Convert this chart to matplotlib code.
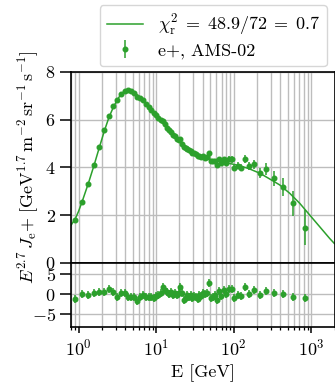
import matplotlib
matplotlib.use("Agg")
import matplotlib.pyplot as plt
import numpy as np

plt.rcParams['font.family'] = 'serif'
plt.rcParams['font.serif'] = ['cmr10']
plt.rcParams['mathtext.fontset'] = 'cm'
plt.rcParams['axes.formatter.use_mathtext'] = True
plt.rcParams['font.size'] = 13

# AMS-02 positron data (E^2.7 * flux)
energy = [0.91, 1.11, 1.34, 1.58, 1.85, 2.15, 2.47, 2.82, 3.18, 3.54, 3.92, 4.32,
          4.76, 5.24, 5.74, 6.26, 6.81, 7.39, 7.99, 8.62, 9.28, 9.96, 10.67, 11.42,
          12.19, 12.99, 13.82, 14.69, 15.59, 16.52, 17.48, 18.48, 19.51, 20.58, 21.68, 22.83,
          24.01, 25.25, 26.57, 27.96, 29.44, 31.00, 32.66, 34.43, 36.32, 38.34, 40.48, 42.79,
          45.27, 47.93, 50.81, 53.93, 57.33, 61.04, 65.12, 69.64, 74.66, 80.31, 86.71, 94.05,
          102.6, 112.7, 125.1, 140.2, 159.0, 184.4, 219.1, 263.8, 327.6, 430.1, 591.6, 836.7]
flux = [1.79, 2.55, 3.32, 4.09, 4.85, 5.55, 6.16, 6.56, 6.82, 7.09, 7.22, 7.23,
        7.20, 7.13, 6.96, 6.90, 6.81, 6.66, 6.54, 6.42, 6.28, 6.18, 6.07, 5.99,
        5.96, 5.81, 5.67, 5.55, 5.49, 5.35, 5.30, 5.18, 5.14, 5.17, 5.00, 4.84,
        4.81, 4.79, 4.71, 4.70, 4.61, 4.59, 4.54, 4.46, 4.49, 4.43, 4.47, 4.41,
        4.42, 4.60, 4.25, 4.25, 4.26, 4.11, 4.34, 4.17, 4.33, 4.20, 4.34, 4.33,
        3.99, 4.06, 3.99, 4.35, 4.05, 4.12, 3.76, 3.92, 3.54, 3.18, 2.50, 1.47]
flux_err = [0.05, 0.05, 0.05, 0.05, 0.05, 0.05, 0.05, 0.05, 0.05, 0.05, 0.05, 0.05,
            0.05, 0.05, 0.05, 0.05, 0.05, 0.05, 0.05, 0.05, 0.05, 0.05, 0.06, 0.06,
            0.06, 0.06, 0.06, 0.06, 0.06, 0.06, 0.06, 0.06, 0.06, 0.07, 0.07, 0.07,
            0.07, 0.07, 0.07, 0.07, 0.07, 0.08, 0.08, 0.08, 0.08, 0.08, 0.09, 0.09,
            0.09, 0.09, 0.10, 0.10, 0.10, 0.11, 0.11, 0.12, 0.12, 0.13, 0.13, 0.14,
            0.14, 0.15, 0.16, 0.17, 0.18, 0.20, 0.22, 0.25, 0.32, 0.37, 0.52, 0.73]
residual = [-1.3, 0.0, -0.1, 0.3, 0.6, 0.6, 1.2, 0.5, -0.6, 0.4, 0.3, -0.7,
            -0.7, -0.6, -1.6, -0.6, -0.1, -0.7, -0.8, -0.6, -0.9, -0.5, -0.3, 0.3,
            1.8, 1.1, 0.5, 0.1, 0.6, -0.1, 0.3, -0.3, 0.2, 1.8, 0.2, -1.5,
            -0.9, -0.3, -0.8, -0.2, -1.0, -0.4, -0.6, -1.2, -0.2, -0.5, 0.3, 0.0,
            0.4, 2.8, -0.9, -0.6, -0.3, -1.5, 0.8, -0.5, 1.0, 0.1, 1.3, 1.3,
            -0.9, -0.2, -0.4, 1.9, 0.0, 1.1, -0.2, 0.9, 0.25, 0.0, -0.6, -1.0]
residual_err = [1.0] * len(residual)

# model curve
model_E = [0.8, 0.91, 1.0, 1.11, 1.34, 1.58, 1.85, 2.15, 2.47, 2.82, 3.18, 3.54, 3.92,
           4.32, 4.76, 5.24, 5.74, 6.26, 6.81, 7.39, 7.99, 8.62, 9.28, 9.96, 10.67, 11.42,
           12.19, 13.82, 15.59, 17.48, 19.51, 21.68, 24.01, 26.57, 29.44, 32.66, 36.32,
           40.48, 45.27, 50.81, 57.33, 65.12, 74.66, 86.71, 102.6, 125.1, 159.0, 219.1,
           293.0, 394.0, 530.0, 713.0, 958.0, 1288.0, 1730.0, 2000.0]
model_val = [1.57, 1.85, 2.15, 2.55, 3.33, 4.07, 4.82, 5.52, 6.10, 6.53, 6.85, 7.07, 7.20,
             7.26, 7.24, 7.16, 7.04, 6.93, 6.82, 6.70, 6.58, 6.45, 6.32, 6.20, 6.08, 5.97,
             5.86, 5.64, 5.45, 5.28, 5.13, 4.99, 4.87, 4.76, 4.67, 4.58, 4.50,
             4.44, 4.38, 4.33, 4.29, 4.25, 4.21, 4.17, 4.12, 4.05, 3.94, 3.75,
             3.51, 3.26, 2.91, 2.49, 2.00, 1.51, 1.02, 0.80]

chi_label = r'$\chi^2_\mathrm{r}\;=\;48.9/72\;=\;0.7$'
data_label = 'e+, AMS-02'
color = '#2ca02c'

fig = plt.figure(figsize=(3.35, 3.88), dpi=100)
W, H = 335.0, 388.0
left, right = 71 / W, 334.5 / W
ax = fig.add_axes([left, (H - 262.7) / H, right - left, (262.7 - 72) / H])
axr = fig.add_axes([left, (H - 327) / H, right - left, (327 - 262.7) / H], sharex=ax)

ax.plot(model_E, model_val, color=color, lw=1.1, label=chi_label)
ax.errorbar(energy, flux, yerr=flux_err, fmt='o', color=color, ms=3.3, lw=1.1,
            capsize=0, label=data_label)
axr.errorbar(energy, residual, yerr=residual_err, fmt='o', color=color, ms=3.3, lw=1.1,
             capsize=0)

ax.set_xscale('log')
ax.set_xlim(0.8, 2000)
ax.set_ylim(0, 8)
ax.set_yticks([0, 2, 4, 6, 8])
axr.set_ylim(-8.2, 7.9)
axr.set_yticks([-5, 0, 5])

for a in (ax, axr):
    a.grid(True, which='major', axis='both', color='#bdbdbd', lw=1.0)
    a.grid(True, which='minor', axis='x', color='#bdbdbd', lw=1.0)
    a.set_axisbelow(True)
    for s in a.spines.values():
        s.set_linewidth(1.2)
    a.tick_params(axis='y', which='major', length=8, width=1.1, pad=3)
    a.tick_params(axis='x', which='major', length=4.5, width=1.1)
    a.tick_params(axis='x', which='minor', length=2.5, width=0.9)

ax.tick_params(axis='x', which='both', labelbottom=False)
ax.set_ylabel(r'$E^{2.7}\,J_\mathrm{e}{+}\ [\mathrm{GeV}^{1.7}\,\mathrm{m}^{-2}\,\mathrm{sr}^{-1}\,\mathrm{s}^{-1}]$',
              labelpad=4)
axr.set_xlabel('E [GeV]')

h, l = ax.get_legend_handles_labels()
fig.legend(h, l, loc='upper right', bbox_to_anchor=(327 / W, 1 - 5 / H), borderaxespad=0,
           handlelength=2.0, borderpad=0.4, labelspacing=0.3)

fig.savefig('out.png', dpi=100)
